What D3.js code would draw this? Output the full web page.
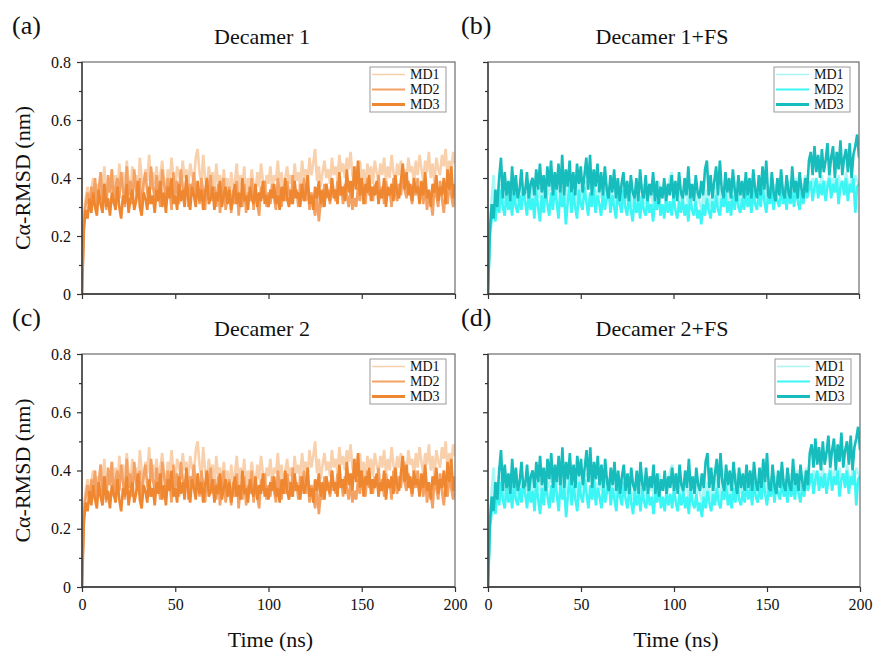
<!DOCTYPE html>
<html lang="en">
<head>
	<meta charset="utf-8"/>
	<title>RMSD decamers</title>
	<script src="https://d3js.org/d3.v7.min.js" charset="utf-8"></script>
	<style>
		body { margin: 0; background: #fff; }
		svg text { font-family: "Liberation Serif", Tinos, "Times New Roman", "DejaVu Serif", serif !important; fill: #111; }
		.axis .domain { display: none; }
		.axis line { stroke: #333; stroke-width: 1.2px; }
		.axis text { font-size: 16px; }
	</style>
</head>
<body>
<div id="chart"></div>

<script>
	// time axis, 1 ns steps
	var time = d3.range(0, 201);

	// Decamer (orange panels) - C-alpha RMSD in nm
	var orangeMD1 = [0,.28,.33,.37,.31,.36,.40,.34,.38,.32,.42,.36,.44,.33,.39,.35,.43,.37,.41,.34,
		.45,.38,.42,.35,.46,.39,.36,.44,.38,.41,.35,.47,.40,.37,.43,.39,.48,.36,.42,.38,
		.44,.37,.41,.46,.39,.35,.43,.38,.47,.40,.36,.44,.41,.38,.46,.40,.43,.37,.45,.41,
		.39,.47,.50,.42,.38,.48,.40,.36,.44,.39,.42,.35,.45,.38,.41,.34,.43,.37,.40,.33,
		.42,.36,.39,.45,.35,.41,.37,.44,.33,.40,.36,.43,.38,.34,.42,.37,.45,.39,.35,.41,
		.38,.44,.36,.41,.39,.46,.37,.42,.35,.40,.44,.38,.41,.36,.45,.39,.42,.37,.46,.40,
		.43,.38,.47,.41,.45,.50,.39,.44,.37,.42,.46,.40,.43,.38,.47,.41,.44,.39,.48,.42,
		.45,.40,.47,.43,.49,.41,.38,.44,.40,.46,.39,.43,.37,.45,.41,.44,.38,.46,.42,.39,
		.45,.41,.47,.39,.44,.40,.48,.42,.38,.45,.41,.46,.40,.43,.39,.47,.42,.44,.38,.46,
		.41,.48,.43,.39,.46,.42,.49,.40,.45,.38,.47,.43,.41,.48,.44,.50,.40,.46,.42,.49,.45];
	var orangeMD2 = [0,.26,.31,.35,.29,.37,.33,.40,.30,.36,.42,.32,.38,.29,.41,.35,.43,.31,.37,.40,
		.33,.42,.36,.30,.44,.34,.39,.31,.43,.36,.33,.40,.29,.38,.42,.35,.31,.44,.37,.33,
		.41,.35,.30,.43,.38,.32,.40,.36,.29,.42,.34,.39,.31,.43,.37,.33,.40,.30,.38,.35,
		.42,.33,.37,.31,.40,.35,.29,.39,.34,.41,.32,.37,.30,.38,.28,.35,.40,.29,.33,.37,
		.28,.36,.31,.39,.27,.34,.30,.38,.28,.35,.32,.40,.29,.36,.31,.27,.37,.33,.39,.30,
		.35,.31,.38,.33,.29,.40,.34,.30,.37,.32,.39,.35,.31,.41,.33,.36,.30,.38,.34,.40,
		.32,.37,.29,.35,.31,.27,.34,.25,.32,.30,.38,.33,.36,.31,.40,.35,.32,.39,.34,.37,
		.31,.38,.34,.30,.36,.29,.33,.30,.37,.32,.39,.35,.31,.40,.34,.37,.32,.38,.35,.41,
		.33,.37,.31,.39,.34,.36,.30,.40,.35,.32,.38,.34,.41,.36,.33,.39,.35,.31,.37,.34,
		.40,.33,.36,.31,.38,.29,.35,.32,.27,.37,.34,.30,.39,.33,.28,.36,.31,.38,.34,.30,.35];
	var orangeMD3 = [0,.22,.29,.26,.33,.28,.35,.30,.27,.36,.31,.28,.38,.30,.33,.27,.35,.32,.29,.37,
		.30,.26,.34,.31,.38,.28,.33,.36,.29,.32,.39,.30,.27,.35,.33,.29,.37,.31,.34,.28,
		.36,.32,.39,.30,.35,.28,.37,.33,.40,.31,.34,.29,.38,.32,.36,.30,.41,.33,.29,.37,
		.34,.30,.39,.32,.36,.29,.35,.40,.31,.33,.37,.29,.35,.32,.39,.30,.34,.37,.31,.36,
		.29,.33,.38,.31,.35,.30,.40,.32,.34,.29,.37,.33,.31,.38,.30,.35,.32,.39,.31,.34,
		.30,.36,.33,.38,.31,.34,.29,.37,.32,.40,.33,.30,.36,.31,.39,.33,.35,.30,.38,.32,
		.35,.41,.31,.34,.29,.37,.33,.39,.31,.36,.30,.38,.34,.32,.40,.33,.36,.31,.42,.34,
		.37,.32,.43,.35,.39,.33,.44,.36,.46,.34,.40,.31,.38,.35,.41,.32,.37,.34,.39,.31,
		.36,.33,.40,.30,.37,.34,.38,.32,.41,.35,.33,.39,.45,.36,.42,.34,.38,.32,.40,.35,
		.37,.31,.39,.34,.42,.33,.36,.30,.38,.35,.41,.32,.37,.34,.40,.31,.43,.36,.44,.33,.38];

	// Decamer + FS (cyan panels)
	var cyanMD1 = [0,.24,.33,.41,.30,.36,.32,.38,.34,.31,.37,.33,.35,.30,.38,.34,.32,.36,.31,.37,
		.33,.35,.31,.38,.34,.30,.36,.33,.37,.31,.35,.39,.34,.36,.38,.33,.40,.37,.35,.39,
		.34,.37,.32,.38,.35,.39,.33,.36,.31,.38,.34,.37,.33,.39,.36,.40,.35,.38,.34,.36,
		.33,.37,.31,.35,.38,.32,.36,.34,.30,.37,.33,.35,.31,.38,.34,.32,.36,.33,.30,.35,
		.32,.36,.30,.34,.38,.31,.35,.33,.37,.30,.34,.32,.39,.35,.33,.37,.31,.36,.40,.42,
		.36,.33,.38,.31,.35,.32,.37,.34,.30,.36,.33,.38,.31,.35,.32,.29,.34,.31,.36,.33,
		.30,.35,.32,.37,.33,.31,.36,.34,.38,.32,.35,.31,.37,.33,.39,.34,.32,.36,.33,.38,
		.34,.37,.32,.39,.35,.33,.38,.34,.40,.36,.32,.37,.35,.39,.33,.38,.36,.34,.40,.35,
		.37,.33,.39,.35,.38,.34,.40,.36,.33,.38,.35,.41,.37,.39,.36,.40,.38,.35,.39,.37,
		.41,.36,.39,.37,.42,.35,.40,.38,.36,.41,.37,.39,.35,.42,.38,.36,.40,.37,.41,.39,.38];
	var cyanMD2 = [0,.20,.26,.31,.25,.34,.28,.36,.30,.27,.35,.29,.33,.27,.36,.30,.28,.34,.29,.36,
		.32,.27,.35,.29,.33,.26,.36,.30,.25,.34,.28,.37,.31,.27,.35,.29,.37,.32,.26,.36,
		.30,.34,.24,.32,.37,.28,.35,.30,.26,.36,.31,.29,.37,.32,.27,.35,.30,.37,.28,.34,
		.31,.27,.35,.29,.33,.37,.28,.34,.30,.26,.35,.31,.28,.36,.30,.27,.34,.29,.25,.33,
		.28,.32,.26,.34,.29,.27,.33,.28,.31,.25,.32,.29,.35,.27,.31,.26,.33,.28,.32,.27,
		.34,.29,.26,.32,.28,.33,.27,.31,.25,.34,.29,.27,.32,.26,.29,.24,.31,.27,.33,.29,
		.26,.32,.28,.34,.29,.27,.33,.30,.35,.28,.32,.27,.34,.29,.36,.30,.28,.33,.29,.35,
		.30,.34,.28,.36,.31,.29,.35,.30,.37,.32,.28,.34,.31,.36,.29,.35,.32,.30,.37,.31,
		.34,.29,.36,.31,.35,.30,.37,.32,.29,.35,.31,.38,.33,.36,.39,.32,.37,.40,.33,.38,
		.34,.39,.32,.37,.40,.33,.38,.35,.40,.31,.37,.39,.34,.40,.32,.38,.35,.40,.28,.37,.38];
	var cyanMD3 = [0,.22,.31,.26,.36,.30,.40,.47,.33,.42,.34,.39,.32,.44,.34,.41,.33,.36,.43,.34,
		.35,.42,.33,.38,.40,.34,.43,.36,.45,.35,.41,.33,.44,.37,.46,.34,.42,.36,.45,.35,
		.48,.34,.43,.37,.46,.35,.42,.34,.45,.38,.44,.35,.41,.47,.36,.48,.34,.43,.37,.45,
		.35,.42,.34,.44,.36,.33,.41,.35,.43,.33,.40,.32,.38,.42,.33,.39,.32,.41,.35,.33,
		.40,.32,.43,.35,.33,.41,.32,.38,.34,.42,.32,.39,.31,.37,.33,.40,.32,.38,.34,.41,
		.33,.39,.32,.42,.35,.33,.40,.34,.44,.33,.38,.32,.41,.35,.33,.39,.34,.43,.46,.34,
		.41,.33,.39,.44,.34,.46,.36,.33,.42,.35,.40,.33,.43,.36,.32,.41,.34,.39,.33,.42,
		.34,.40,.33,.43,.36,.33,.41,.34,.44,.36,.46,.34,.33,.42,.35,.32,.40,.34,.43,.35,
		.33,.41,.35,.33,.44,.35,.39,.33,.42,.36,.33,.40,.35,.46,.49,.41,.51,.42,.48,.40,
		.50,.42,.46,.52,.41,.47,.51,.40,.49,.43,.53,.41,.47,.50,.42,.52,.40,.48,.51,.55,.47];

	var seriesNames = ["MD1", "MD2", "MD3"];
	var yTicks = [0, 0.2, 0.4, 0.6, 0.8];
	var yMinor = [0.1, 0.3, 0.5, 0.7];
	var xTicks = [0, 50, 100, 150, 200];

	var orange = ["#f9d0ac", "#f4a264", "#ef8630"];
	var cyan = ["#aaf6f6", "#3cf5f5", "#17bdbd"];
	var legendWidths = [1.5, 2, 3];
	var serif = "'Liberation Serif', Tinos, 'Times New Roman', 'DejaVu Serif', serif";

	var width = 874,
		height = 652;

	var svg = d3.select("#chart").append("svg")
		.attr("width", width)
		.attr("height", height)
		.attr("font-family", serif);

	// panel layout
	var panels = [
		{ tag: "(a)", title: "Decamer 1", left: 82, top: 62, right: 455, bottom: 294, titleX: 262, tagX: 12,
			data: [orangeMD1, orangeMD2, orangeMD3], colors: orange, yLabels: true, xLabels: false },
		{ tag: "(b)", title: "Decamer 1+FS", left: 488, top: 62, right: 859, bottom: 294, titleX: 662, tagX: 461,
			data: [cyanMD1, cyanMD2, cyanMD3], colors: cyan, yLabels: false, xLabels: false },
		{ tag: "(c)", title: "Decamer 2", left: 82, top: 354, right: 455, bottom: 587, titleX: 262, tagX: 12,
			data: [orangeMD1, orangeMD2, orangeMD3], colors: orange, yLabels: true, xLabels: true },
		{ tag: "(d)", title: "Decamer 2+FS", left: 488, top: 354, right: 860, bottom: 587, titleX: 662, tagX: 461,
			data: [cyanMD1, cyanMD2, cyanMD3], colors: cyan, yLabels: false, xLabels: true }
	];

	panels.forEach(function(p, pi) {
		var x = d3.scaleLinear().domain([0, 200]).range([p.left, p.right]);
		var y = d3.scaleLinear().domain([0, 0.8]).range([p.bottom, p.top]);

		var clipId = "clip" + pi;
		svg.append("clipPath").attr("id", clipId)
			.append("rect")
			.attr("x", p.left).attr("y", p.top)
			.attr("width", p.right - p.left).attr("height", p.bottom - p.top);

		var line = d3.line()
			.x(function(d, i) { return x(time[i]); })
			.y(function(d) { return y(d); });

		// MD1 first, MD3 on top
		svg.append("g")
			.attr("clip-path", "url(#" + clipId + ")")
			.selectAll("path")
			.data(p.data)
			.enter().append("path")
				.attr("d", line)
				.attr("fill", "none")
				.attr("stroke", function(d, i) { return p.colors[i]; })
				.attr("stroke-width", 2.6)
				.attr("stroke-linejoin", "miter")
				.attr("stroke-miterlimit", 2);

		// frame
		svg.append("rect")
			.attr("x", p.left).attr("y", p.top)
			.attr("width", p.right - p.left).attr("height", p.bottom - p.top)
			.attr("fill", "none")
			.attr("stroke", "#777")
			.attr("stroke-width", 1.3);
		svg.append("line")
			.attr("x1", p.left).attr("x2", p.left).attr("y1", p.top).attr("y2", p.bottom)
			.attr("stroke", "#333").attr("stroke-width", 1.3);
		svg.append("line")
			.attr("x1", p.left).attr("x2", p.right).attr("y1", p.bottom).attr("y2", p.bottom)
			.attr("stroke", "#333").attr("stroke-width", 1.3);

		// y axis
		svg.append("g")
			.attr("class", "axis")
			.attr("transform", "translate(" + p.left + ",0)")
			.call(d3.axisLeft(y).tickValues(yTicks).tickSize(5).tickPadding(6)
				.tickFormat(function(d) { return p.yLabels ? (d === 0 ? "0" : d3.format(".1f")(d)) : ""; }))
			.attr("font-family", serif);
		svg.append("g")
			.attr("class", "axis")
			.attr("transform", "translate(" + p.left + ",0)")
			.call(d3.axisLeft(y).tickValues(yMinor).tickSize(3).tickFormat(""));

		// x axis
		svg.append("g")
			.attr("class", "axis")
			.attr("transform", "translate(0," + p.bottom + ")")
			.call(d3.axisBottom(x).tickValues(xTicks).tickSize(5).tickPadding(7)
				.tickFormat(function(d) { return p.xLabels ? d : ""; }))
			.attr("font-family", serif);

		// title and tag
		svg.append("text")
			.attr("x", p.titleX)
			.attr("y", p.top - 18)
			.attr("text-anchor", "middle")
			.style("font-size", "22px")
			.text(p.title);
		svg.append("text")
			.attr("x", p.tagX)
			.attr("y", p.top - 28)
			.style("font-size", "26px")
			.text(p.tag);

		// legend
		var lg = svg.append("g")
			.attr("transform", "translate(" + (p.right - 85) + "," + (p.top + 5) + ")");
		lg.append("rect")
			.attr("width", 76)
			.attr("height", 45)
			.attr("fill", "#fff")
			.attr("stroke", "#999")
			.attr("stroke-width", 1);
		var row = lg.selectAll("g")
			.data(seriesNames)
			.enter().append("g")
				.attr("transform", function(d, i) { return "translate(0," + (7.5 + i * 15) + ")"; });
		row.append("line")
			.attr("x1", 2).attr("x2", 35)
			.attr("stroke", function(d, i) { return p.colors[i]; })
			.attr("stroke-width", function(d, i) { return legendWidths[i]; });
		row.append("text")
			.attr("x", 40)
			.attr("dy", "0.35em")
			.style("font-size", "14px")
			.text(function(d) { return d; });

		// axis titles
		if (p.yLabels) {
			svg.append("text")
				.attr("transform", "translate(30," + ((p.top + p.bottom) / 2) + ") rotate(-90)")
				.attr("text-anchor", "middle")
				.style("font-size", "22px")
				.text("C\u03b1-RMSD (nm)");
		}
		if (p.xLabels) {
			svg.append("text")
				.attr("x", (p.left + p.right) / 2 + 2)
				.attr("y", 647)
				.attr("text-anchor", "middle")
				.style("font-size", "22px")
				.text("Time (ns)");
		}
	});
</script>
</body>
</html>
